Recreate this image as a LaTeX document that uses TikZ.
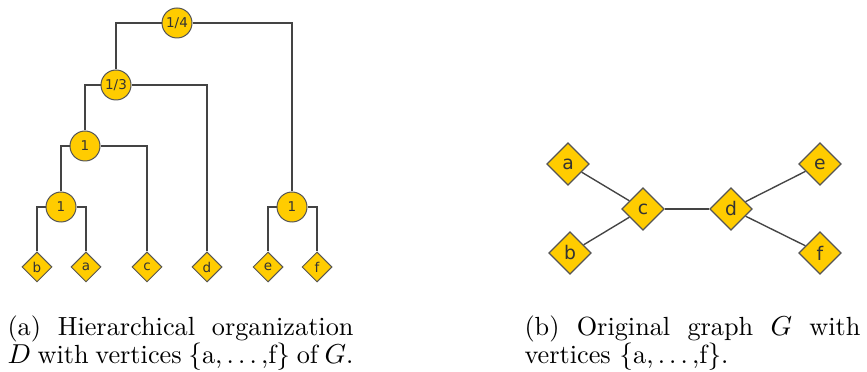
\documentclass[tikz,border=0pt]{standalone}
\usepackage{fontspec}
\newfontfamily\nodefont{DejaVu Sans}
\usetikzlibrary{shapes.geometric}
\definecolor{gold}{HTML}{FFCC00}
\definecolor{edgegray}{HTML}{444444}
\definecolor{bordergray}{HTML}{555555}
\definecolor{labelgray}{HTML}{333333}
\newcommand{\mydots}{.\kern1.67pt.\kern1.67pt.}
\begin{document}
\begin{tikzpicture}[x=0.4pt,y=-0.4pt,
  hnode/.style={circle,draw=bordergray,fill=gold,line width=0.4pt,minimum size=12pt,inner sep=0pt,text=labelgray,font=\nodefont\fontsize{5.4}{6}\selectfont},
  leaf/.style={diamond,draw=bordergray,fill=gold,line width=0.4pt,minimum width=12pt,minimum height=12pt,inner sep=0pt,text=labelgray,font=\nodefont\fontsize{5.4}{6}\selectfont},
  gnode/.style={diamond,draw=bordergray,fill=gold,line width=0.45pt,minimum width=17pt,minimum height=17pt,inner sep=0pt,text=labelgray,font=\nodefont\fontsize{7.5}{8}\selectfont},
  tline/.style={draw=edgegray,line width=0.5pt},
  gline/.style={draw=edgegray,line width=0.55pt},
  captext/.style={anchor=base west,inner sep=0pt,font=\fontsize{10.5}{12}\selectfont}
]
\useasboundingbox (0,0) rectangle (867,372);
% hierarchy
\node[hnode] (r) at (177,23) {1/4};
\node[hnode] (n13) at (116,85) {1/3};
\node[hnode] (n1a) at (85,146) {1};
\node[hnode] (n1b) at (61,207) {1};
\node[hnode] (n1c) at (292,207) {1};
\node[leaf] (tb) at (37,267) {b};
\node[leaf] (ta) at (86,267) {a};
\node[leaf] (tc) at (147,267) {c};
\node[leaf] (td) at (207,267) {d};
\node[leaf] (te) at (268,267) {e};
\node[leaf] (tf) at (317,267) {f};
\draw[tline] (r.west) -| (n13.north);
\draw[tline] (r.east) -| (n1c.north);
\draw[tline] (n13.west) -| (n1a.north);
\draw[tline] (n13.east) -| (td.north);
\draw[tline] (n1a.west) -| (n1b.north);
\draw[tline] (n1a.east) -| (tc.north);
\draw[tline] (n1b.west) -| (tb.north);
\draw[tline] (n1b.east) -| (ta.north);
\draw[tline] (n1c.west) -| (te.north);
\draw[tline] (n1c.east) -| (tf.north);
% graph
\node[gnode] (ga) at (568,164) {a};
\node[gnode] (gb) at (570,253) {b};
\node[gnode] (gc) at (643,209) {c};
\node[gnode] (gd) at (731,209) {d};
\node[gnode] (ge) at (820,164) {e};
\node[gnode] (gf) at (820,253) {f};
\draw[gline] (ga) -- (gc);
\draw[gline] (gb) -- (gc);
\draw[gline] (gc) -- (gd);
\draw[gline] (gd) -- (ge);
\draw[gline] (gd) -- (gf);
% captions
\node[captext] (capa1) at (7,336) {\makebox[138.4pt][s]{(a) Hierarchical organization}};
\node[captext] (capa2) at (7,364) {\makebox[138.4pt][s]{$D$ with vertices $\{$a,\kern1.67pt\mydots\kern1.67pt,f$\}$ of $G$.}};
\node[captext] (capb1) at (524,336) {\makebox[134.4pt][s]{(b) Original graph $G$ with}};
\node[captext] (capb2) at (524,364) {vertices $\{$a,\kern1.67pt\mydots\kern1.67pt,f$\}$.};
\end{tikzpicture}
\end{document}
